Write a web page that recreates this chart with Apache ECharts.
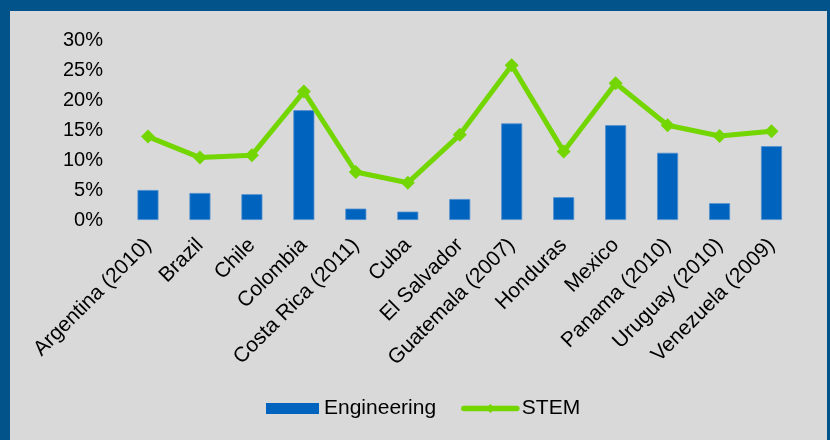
<!DOCTYPE html>
<html>
<head>
<meta charset="utf-8">
<script src="https://cdn.jsdelivr.net/npm/echarts@6/dist/echarts.min.js"></script>
<style>
  html, body { margin: 0; padding: 0; background: #03538b; width: 830px; height: 440px; overflow: hidden; }
  #chart { position: absolute; left: 10px; top: 11px; width: 817px; height: 429px; background: #d9d9d9; }
</style>
</head>
<body>
<div id="chart"></div>
<script>
// Share of graduates (%) by country
const countries = [
  'Argentina (2010)', 'Brazil', 'Chile', 'Colombia', 'Costa Rica (2011)', 'Cuba',
  'El Salvador', 'Guatemala (2007)', 'Honduras', 'Mexico', 'Panama (2010)',
  'Uruguay (2010)', 'Venezuela (2009)'
];
const engineering = [5.0, 4.5, 4.3, 18.3, 1.9, 1.4, 3.5, 16.1, 3.8, 15.8, 11.2, 2.8, 12.3];
const stem = [13.9, 10.4, 10.8, 21.4, 8.0, 6.2, 14.2, 25.8, 11.4, 22.8, 15.8, 14.0, 14.8];
const yTicks = [0, 5, 10, 15, 20, 25, 30];

const FONT = '"Liberation Sans", Arial, sans-serif';
const chart = echarts.init(document.getElementById('chart'), null, { renderer: 'canvas' });

chart.setOption({
  animation: false,
  backgroundColor: '#d9d9d9',
  textStyle: { fontFamily: FONT },
  grid: { left: 112, right: 29.5, top: 29, height: 180, containLabel: false },
  legend: {
    left: 256,
    top: 387,
    padding: 0,
    itemWidth: 53,
    itemHeight: 11,
    itemGap: 25,
    itemStyle: { borderWidth: 0 },
    lineStyle: { width: 5.5, cap: 'round' },
    textStyle: { fontFamily: FONT, fontSize: 21, color: '#000' },
    data: [
      { name: 'Engineering', icon: 'rect' },
      { name: 'STEM' }
    ]
  },
  xAxis: {
    type: 'category',
    data: countries,
    axisLine: { show: false },
    axisTick: { show: false },
    axisLabel: {
      interval: 0,
      rotate: 45,
      margin: 22,
      fontSize: 21,
      fontFamily: FONT,
      color: '#000'
    }
  },
  yAxis: {
    type: 'value',
    min: yTicks[0],
    max: yTicks[yTicks.length - 1],
    interval: 5,
    splitLine: { show: false },
    axisLine: { show: false },
    axisTick: { show: false },
    axisLabel: {
      margin: 19,
      fontSize: 20,
      fontFamily: FONT,
      color: '#000',
      formatter: v => v + '%'
    }
  },
  series: [
    {
      name: 'Engineering',
      type: 'bar',
      data: engineering,
      barWidth: 21,
      itemStyle: { color: '#0063be', borderColor: '#4f8fcf', borderWidth: 0.8 }
    },
    {
      name: 'STEM',
      type: 'line',
      data: stem,
      symbol: 'diamond',
      symbolSize: 14,
      lineStyle: { color: '#74d600', width: 5 },
      itemStyle: { color: '#74d600' }
    }
  ]
});
</script>
</body>
</html>
